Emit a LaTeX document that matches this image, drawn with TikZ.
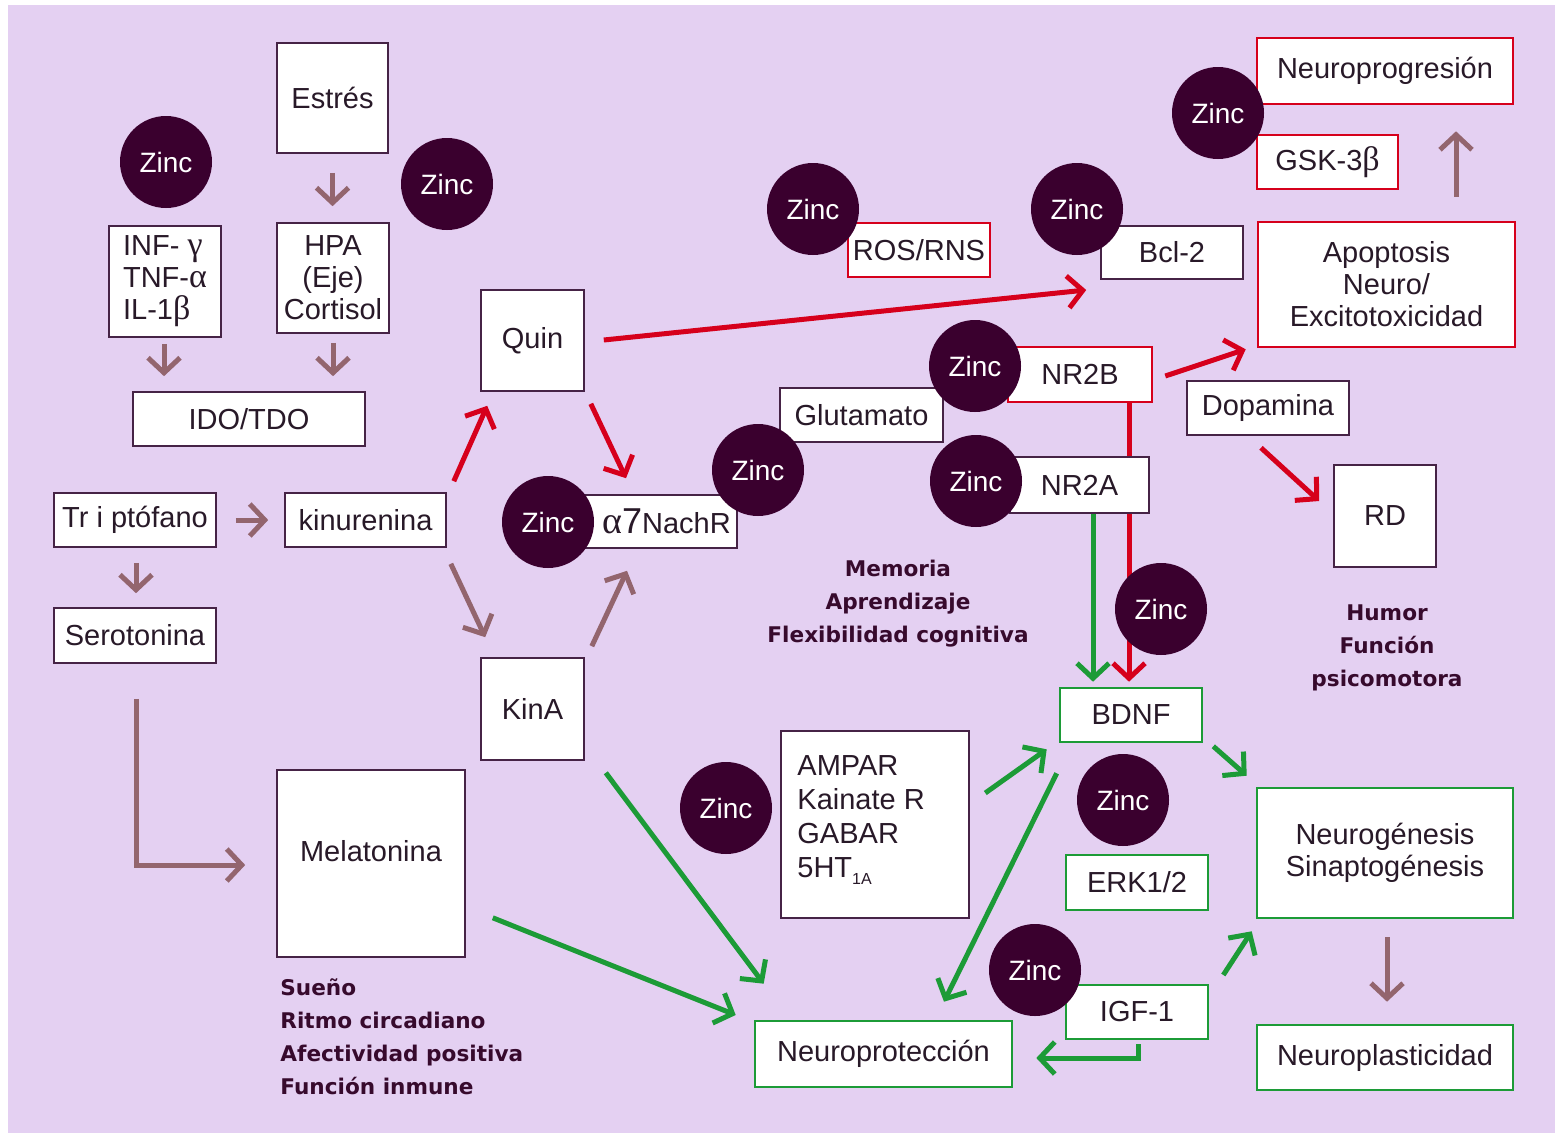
\documentclass[tikz,border=0pt]{standalone}
\usepackage{fontspec}
\setmainfont{Liberation Sans}
\newfontfamily\grk{Liberation Serif}
\newfontfamily\bfam{DejaVu Sans}
\usetikzlibrary{arrows.meta}
\definecolor{lav}{RGB}{228,208,242}
\definecolor{dk}{RGB}{70,35,70}
\definecolor{txt}{RGB}{40,25,40}
\definecolor{rdc}{RGB}{214,0,28}
\definecolor{grc}{RGB}{28,155,55}
\definecolor{mv}{RGB}{147,101,110}
\definecolor{zc}{RGB}{58,0,46}
\definecolor{bt}{RGB}{55,10,45}
\newcommand\boxfont{\fontsize{14.5}{16}\selectfont}
\newcommand\zincfont{\fontsize{14}{16}\selectfont}
\newcommand\grkbig{\grk\fontsize{17}{16}\selectfont}
\pgfdeclarelayer{back}
\pgfdeclarelayer{conn}
\pgfsetlayers{back,conn,main}
\tikzset{
  box/.style={draw=dk, fill=white, line width=0.8pt, inner sep=0pt, align=center, font=\boxfont, text=txt},
  redbox/.style={box, draw=rdc, line width=1.3pt},
  grbox/.style={box, draw=grc, line width=1.3pt},
  txtn/.style={inner sep=0pt, font=\boxfont, text=txt},
  zinc/.style={circle, fill=zc, minimum size=46pt, inner sep=0pt, text=white, font=\zincfont},
  boldtxt/.style={inner sep=0pt, text=bt, font=\bfam\bfseries\fontsize{10.8}{16.5}\selectfont},
  arr/.style={line width=2.5pt, -{Straight Barb[length=7.5pt,width=16pt]}},
  marr/.style={arr, draw=mv},
  rarr/.style={arr, draw=rdc},
  garr/.style={arr, draw=grc}
}
\begin{document}
\begin{tikzpicture}[x=0.5pt,y=-0.5pt]
\useasboundingbox (0,0) rectangle (1563,1135);
\begin{pgfonlayer}{back}
\fill[white] (0,0) rectangle (1563,1135);
\fill[lav] (8,5) rectangle (1555,1133);
\end{pgfonlayer}

% boxes
\node[box, minimum width=55.5pt, minimum height=55pt] (est) at (332.5,98) {Estrés};
\node[box, minimum width=56pt, minimum height=55.5pt, align=left] (inf) at (165,281.5) {INF- {\grkbig γ}\\TNF-{\grkbig α}\\IL-1{\grkbig β}};
\node[box, minimum width=56pt, minimum height=55pt] (hpa) at (333,278) {HPA\\(Eje)\\Cortisol};
\node[box, minimum width=116pt, minimum height=27pt] (ido) at (249,419) {IDO/TDO};
\node[box, minimum width=81pt, minimum height=27pt] (trip) at (135,520) {Tr i ptófano};
\node[box, minimum width=80.5pt, minimum height=27pt] (kin) at (365.5,520) {kinurenina};
\node[box, minimum width=81pt, minimum height=27.5pt] (sero) at (135,635.5) {Serotonina};
\node[box, minimum width=94pt, minimum height=93.5pt] (mel) at (371,863.5) {};
\node[txtn] (melt) at (371,851) {Melatonina};
\node[box, minimum width=51.5pt, minimum height=50.5pt] (quin) at (532.5,340.5) {Quin};
\node[box, minimum width=51.5pt, minimum height=51pt] (kina) at (532.5,709) {KinA};
\node[box, minimum width=88.5pt, minimum height=26.5pt] (a7) at (648.5,521.5) {\hspace*{18pt}{\grk\fontsize{19}{16}\selectfont α}{\fontsize{18}{16}\selectfont 7}NachR};
\node[box, minimum width=81.5pt, minimum height=27pt] (glu) at (861.5,415) {Glutamato};
\node[redbox, minimum width=72pt, minimum height=27.5pt] (nr2b) at (1080,374.5) {NR2B};
\node[box, minimum width=69.5pt, minimum height=28pt] (nr2a) at (1079.5,485) {NR2A};
\node[redbox, minimum width=71pt, minimum height=27pt] (ros) at (919,250) {ROS/RNS};
\node[box, minimum width=71pt, minimum height=26.5pt] (bcl) at (1172,252.5) {Bcl-2};
\node[redbox, minimum width=128pt, minimum height=33pt] (neurop) at (1385,71) {Neuroprogresión};
\node[redbox, minimum width=70.5pt, minimum height=27pt] (gsk) at (1327.5,162) {GSK-3{\grkbig β}};
\node[redbox, minimum width=128.5pt, minimum height=62.5pt] (apop) at (1386.5,284.5) {Apoptosis\\Neuro/\\Excitotoxicidad};
\node[box, minimum width=81pt, minimum height=27pt] (dopa) at (1268,408) {Dopamina};
\node[box, minimum width=51pt, minimum height=51pt] (rdn) at (1385,516) {RD};
\node[grbox, minimum width=71pt, minimum height=27pt] (bdnf) at (1131,715) {BDNF};
\node[grbox, minimum width=128pt, minimum height=65pt] (neurog) at (1385,853) {Neurogénesis\\Sinaptogénesis};
\node[grbox, minimum width=128pt, minimum height=32.5pt] (neuropl) at (1385,1057.5) {Neuroplasticidad};
\node[grbox, minimum width=71pt, minimum height=27.5pt] (erk) at (1137,882.5) {ERK1/2};
\node[grbox, minimum width=71pt, minimum height=27pt] (igf) at (1137,1012) {IGF-1};
\node[grbox, minimum width=128.5pt, minimum height=33pt] (nprot) at (883.5,1054) {Neuroprotección};
\node[box, minimum width=94pt, minimum height=93.5pt, line width=1.3pt] (ampar) at (875,824.5) {};
\node[txtn, anchor=north west, align=left, font=\fontsize{14.5}{17}\selectfont] (ampt) at (797,755) {AMPAR\\Kainate R\\GABAR\\5HT\raisebox{-0.45ex}{\fontsize{8}{8}\selectfont 1A}};

% zinc
\node[zinc] (z1) at (166,162) {Zinc};
\node[zinc] (z2) at (447,184) {Zinc};
\node[zinc] (z3) at (548,522) {Zinc};
\node[zinc] (z4) at (758,470) {Zinc};
\node[zinc] (z5) at (813,209) {Zinc};
\node[zinc] (z6) at (1077,209) {Zinc};
\node[zinc] (z7) at (1218,113) {Zinc};
\node[zinc] (z8) at (975,366) {Zinc};
\node[zinc] (z9) at (976,481) {Zinc};
\node[zinc] (z10) at (1161,609) {Zinc};
\node[zinc] (z11) at (726,808) {Zinc};
\node[zinc] (z12) at (1123,800) {Zinc};
\node[zinc] (z13) at (1035,970) {Zinc};

% bold labels
\node[boldtxt, anchor=west, align=left] (fx1) at (280,1037) {Sueño\\Ritmo circadiano\\Afectividad positiva\\Función inmune};
\node[boldtxt, align=center] (fx2) at (898,604) {Memoria\\Aprendizaje\\Flexibilidad cognitiva};
\node[boldtxt, align=center] (fx3) at (1387,648) {Humor\\Función\\psicomotora};

% connectors
\begin{pgfonlayer}{conn}
\draw[marr] ([shift={(0,19)}]est.south) -- ([shift={(-0.5,-16)}]hpa.north);
\draw[marr] ([shift={(-1,6)}]inf.south) -- ([shift={(-85,-15)}]ido.north);
\draw[marr] ([shift={(0,9)}]hpa.south) -- ([shift={(84,-15)}]ido.north);
\draw[marr] ([shift={(19,0)}]trip.east) -- ([shift={(-16,0)}]kin.west);
\draw[marr] ([shift={(1,15)}]trip.south) -- ([shift={(1,-14)}]sero.north);
\draw[marr] ([shift={(1,35)}]sero.south) |- ([shift={(-31,1.5)}]mel.west);
\draw[rarr] ([shift={(7,-11)}]kin.north east) -- ([shift={(7,14)}]quin.south west);
\draw[marr] ([shift={(4,16)}]kin.south east) -- ([shift={(5,-20)}]kina.north west);
\draw[rarr] ([shift={(6,12)}]quin.south east) -- ([shift={(-22.5,-16)}]a7.north);
\draw[marr] ([shift={(7,-11)}]kina.north east) -- ([shift={(-21.5,22)}]a7.south);
\draw[rarr] ([shift={(19,-0.5)}]quin.east) -- ([shift={(-14,37.5)}]bcl.west);
\draw[rarr] ([shift={(12,1.5)}]nr2b.east) -- ([shift={(-11,1)}]apop.south west);
\draw[marr] ([shift={(69.5,-24)}]apop.north) -- ([shift={(71,26)}]neurop.south);
\draw[rarr] ([shift={(-7,12)}]dopa.south) -- ([shift={(-14,-15)}]rdn.west);
\draw[rarr] ([shift={(49,0)}]nr2b.south) -- ([shift={(-2,-5)}]bdnf.north);
\draw[garr] ([shift={(13.5,0)}]nr2a.south) -- ([shift={(-38,-5)}]bdnf.north);
\draw[garr] ([shift={(10,3)}]bdnf.south east) -- ([shift={(-9,-11)}]neurog.north west);
\draw[garr] ([shift={(15,-31.5)}]ampar.east) -- ([shift={(-12,6)}]bdnf.south west);
\draw[garr] ([shift={(-2,30)}]bdnf.south west) -- ([shift={(60.5,-18)}]nprot.north);
\draw[garr] ([shift={(21,12)}]kina.south east) -- ([shift={(10,-36)}]nprot.north west);
\draw[garr] ([shift={(27,-40)}]mel.south east) -- ([shift={(-18,-39)}]nprot.west);
\draw[garr] ([shift={(14,-37)}]igf.east) -- ([shift={(-4,12)}]neurog.south west);
\draw[garr] ([shift={(1,4)}]igf.south) |- ([shift={(23,4)}]nprot.east);
\draw[marr] ([shift={(2,18)}]neurog.south) -- ([shift={(2,-22)}]neuropl.north);
\end{pgfonlayer}
\end{tikzpicture}
\end{document}
